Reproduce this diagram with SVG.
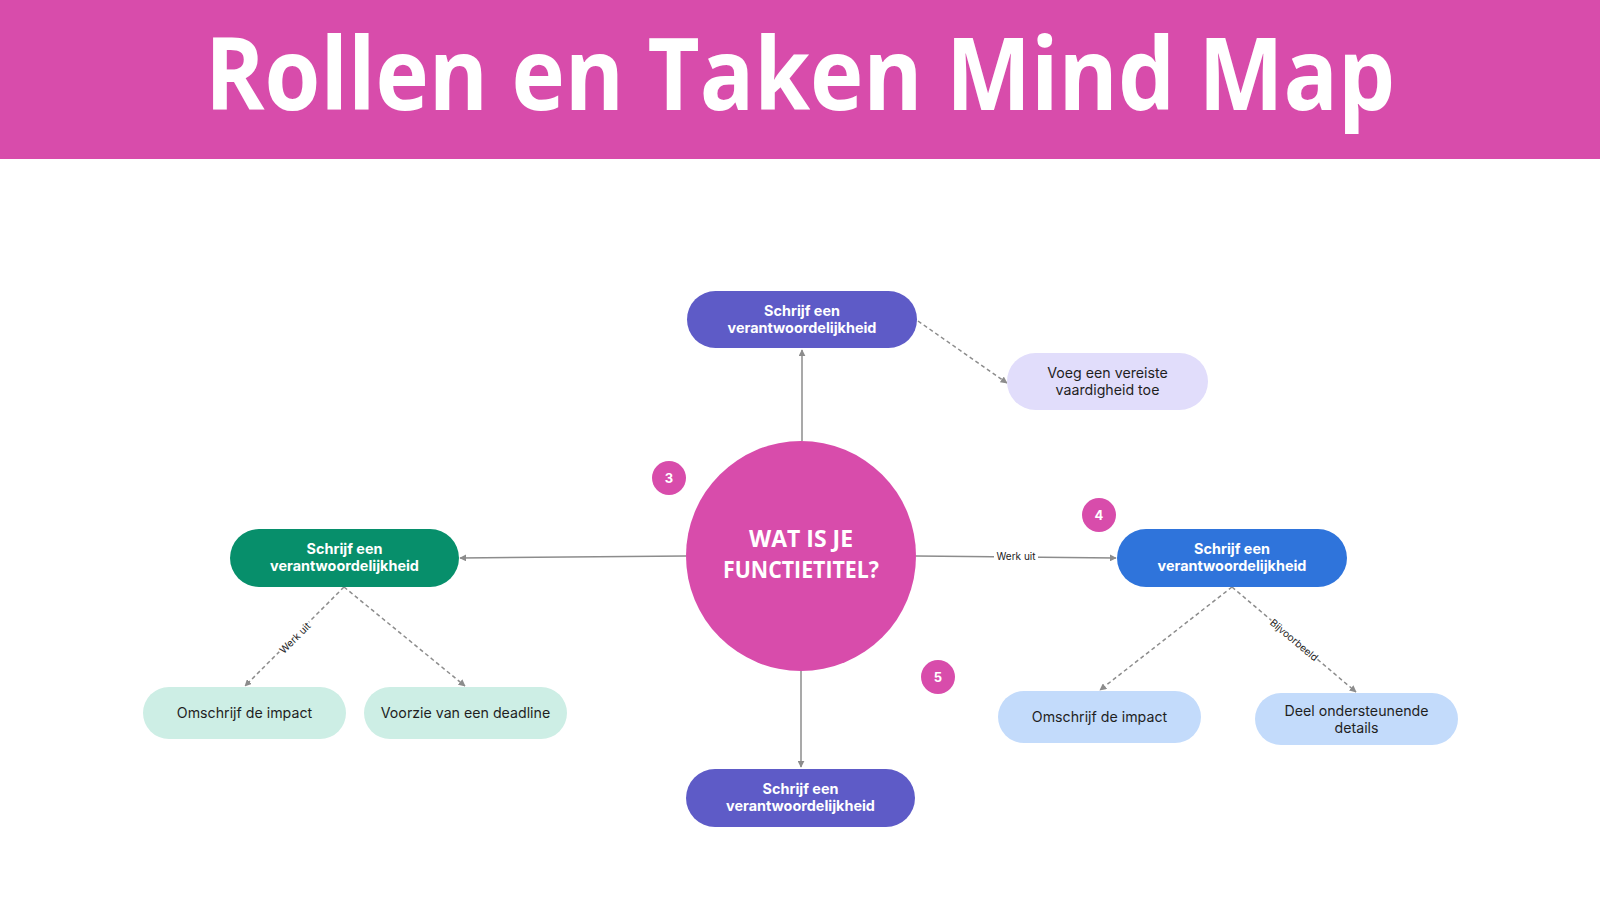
<svg xmlns="http://www.w3.org/2000/svg" width="1600" height="900" viewBox="0 0 1600 900">
<defs>
<style>
.title{font-family:"Open Sans","Liberation Sans",sans-serif;font-weight:700;fill:#fff}
.nt{font-family:Inter,"Liberation Sans",sans-serif;font-weight:700;font-size:14.4px;fill:#fff;text-anchor:middle}
.ct{font-family:Inter,"Liberation Sans",sans-serif;font-weight:400;font-size:14.2px;fill:#1f1f1f;text-anchor:middle}
.ctr{font-family:"Open Sans","Liberation Sans",sans-serif;font-weight:700;font-size:23px;fill:#fff;text-anchor:middle}
.bd{font-family:Inter,"Liberation Sans",sans-serif;font-weight:700;font-size:13px;fill:#fff;text-anchor:middle}
.el{font-family:Inter,"Liberation Sans",sans-serif;font-size:10px;fill:#222;text-anchor:middle}
.sol{stroke:#8c8c8c;stroke-width:1.5;fill:none}
.dsh{stroke:#8c8c8c;stroke-width:1.5;fill:none;stroke-dasharray:4 3}
.pk{fill:#D84CAB}
</style>
<marker id="ah" viewBox="0 0 10 10" refX="9" refY="5" markerWidth="7" markerHeight="7" orient="auto" markerUnits="userSpaceOnUse">
<path d="M0,0 L10,5 L0,10 z" fill="#8c8c8c"/>
</marker>
</defs>
<rect width="1600" height="900" fill="#fff"/>
<g id="header">
<rect x="0" y="0" width="1600" height="159" class="pk"/>
<text x="800" y="110" class="title" font-size="100" text-anchor="middle" textLength="1190" lengthAdjust="spacingAndGlyphs">Rollen en Taken Mind Map</text>
</g>
<g id="connectors">
<line x1="802" y1="441" x2="802" y2="350" class="sol" marker-end="url(#ah)"/>
<line x1="686" y1="556" x2="460" y2="558" class="sol" marker-end="url(#ah)"/>
<line x1="916" y1="556" x2="1116" y2="558" class="sol" marker-end="url(#ah)"/>
<line x1="801" y1="671" x2="801" y2="767" class="sol" marker-end="url(#ah)"/>
<line x1="918" y1="321" x2="1007" y2="383" class="dsh" marker-end="url(#ah)"/>
<line x1="344" y1="587" x2="245" y2="686" class="dsh" marker-end="url(#ah)"/>
<line x1="344" y1="587" x2="465" y2="686" class="dsh" marker-end="url(#ah)"/>
<line x1="1232" y1="587" x2="1100" y2="690" class="dsh" marker-end="url(#ah)"/>
<line x1="1232" y1="587" x2="1356" y2="692" class="dsh" marker-end="url(#ah)"/>
<rect x="994" y="550" width="44" height="13" fill="#fff"/>
<text x="1016" y="560" class="el">Werk uit</text>
<g transform="translate(295,638) rotate(-45)">
<rect x="-21" y="-7" width="42" height="13" fill="#fff"/>
<text x="0" y="3.5" class="el">Werk uit</text>
</g>
<g transform="translate(1294,640) rotate(40)">
<rect x="-30" y="-7" width="60" height="13" fill="#fff"/>
<text x="0" y="3.5" class="el">Bijvoorbeeld</text>
</g>
</g>
<g id="center">
<circle cx="801" cy="556" r="115" class="pk"/>
<text x="801" y="547" class="ctr" textLength="104" lengthAdjust="spacingAndGlyphs">WAT IS JE</text>
<text x="801" y="578" class="ctr" textLength="156" lengthAdjust="spacingAndGlyphs">FUNCTIETITEL?</text>
</g>
<g id="badge3"><circle cx="669" cy="478" r="17" class="pk"/><text x="669" y="483" class="bd">3</text></g>
<g id="badge4"><circle cx="1099" cy="515" r="17" class="pk"/><text x="1099" y="520" class="bd">4</text></g>
<g id="badge5"><circle cx="938" cy="677" r="17" class="pk"/><text x="938" y="682" class="bd">5</text></g>
<g id="node-top">
<rect x="687" y="291" width="230" height="57" rx="28.5" fill="#5E5BC7"/>
<text x="802" y="316" class="nt">Schrijf een</text>
<text x="802" y="333" class="nt">verantwoordelijkheid</text>
</g>
<g id="node-skill">
<rect x="1007" y="353" width="201" height="57" rx="28.5" fill="#E1DDFB"/>
<text x="1107.5" y="378" class="ct">Voeg een vereiste</text>
<text x="1107.5" y="395" class="ct">vaardigheid toe</text>
</g>
<g id="node-left">
<rect x="230" y="529" width="229" height="58" rx="29" fill="#078F6B"/>
<text x="344.5" y="554" class="nt">Schrijf een</text>
<text x="344.5" y="571" class="nt">verantwoordelijkheid</text>
</g>
<g id="node-right">
<rect x="1117" y="529" width="230" height="58" rx="29" fill="#2F74DB"/>
<text x="1232" y="554" class="nt">Schrijf een</text>
<text x="1232" y="571" class="nt">verantwoordelijkheid</text>
</g>
<g id="node-bottom">
<rect x="686" y="769" width="229" height="58" rx="29" fill="#5E5BC7"/>
<text x="800.5" y="794" class="nt">Schrijf een</text>
<text x="800.5" y="811" class="nt">verantwoordelijkheid</text>
</g>
<g id="node-left-impact">
<rect x="143" y="687" width="203" height="52" rx="26" fill="#CDEEE5"/>
<text x="244.5" y="718" class="ct">Omschrijf de impact</text>
</g>
<g id="node-left-deadline">
<rect x="364" y="687" width="203" height="52" rx="26" fill="#CDEEE5"/>
<text x="465.5" y="718" class="ct">Voorzie van een deadline</text>
</g>
<g id="node-right-impact">
<rect x="998" y="691" width="203" height="52" rx="26" fill="#C3DBFB"/>
<text x="1099.5" y="722" class="ct">Omschrijf de impact</text>
</g>
<g id="node-right-details">
<rect x="1255" y="693" width="203" height="52" rx="26" fill="#C3DBFB"/>
<text x="1356.5" y="716" class="ct">Deel ondersteunende</text>
<text x="1356.5" y="733" class="ct">details</text>
</g>
</svg>
